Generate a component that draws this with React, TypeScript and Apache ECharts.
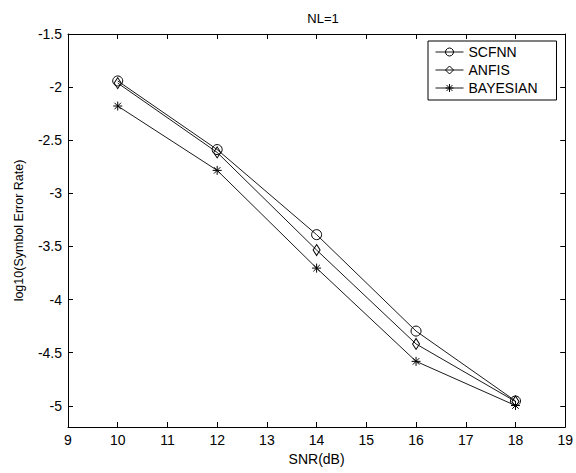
import React, { useEffect, useRef } from "react";
import * as echarts from "echarts";

const snr = [10, 12, 14, 16, 18];
const scfnn = [-1.942, -2.588, -3.389, -4.297, -4.955];
const anfis = [-1.962, -2.615, -3.534, -4.418, -4.96];
const bayesian = [-2.178, -2.784, -3.704, -4.582, -4.998];
const yTicks = [-5, -4.5, -4, -3.5, -3, -2.5, -2, -1.5];
const seriesNames = ["SCFNN", "ANFIS", "BAYESIAN"];

const FONT = "'Liberation Sans', Arial, sans-serif";
const STAR = "path://M0,-5L0,5M-5,0L5,0M-3.6,-3.6L3.6,3.6M-3.6,3.6L3.6,-3.6";

export default function App() {
  const ref = useRef<HTMLDivElement>(null);
  useEffect(() => {
    const chart = echarts.init(ref.current!, null, { renderer: "svg" });
    const pair = (arr: number[]) => snr.map((x, i) => [x, arr[i]]);
    const lineCol = "#1a1a1a";
    const mk = (name: string, data: number[], symbol: string, size: any) => ({
      name,
      type: "line",
      data: pair(data),
      symbol,
      symbolSize: size,
      showSymbol: true,
      lineStyle: { color: lineCol, width: 1 },
      itemStyle: { color: "rgba(0,0,0,0)", borderColor: "#000", borderWidth: 1 },
      emphasis: { disabled: true },
    });
    const tickCommon = { inside: true, length: 5, lineStyle: { color: "#000" } };
    chart.setOption({
      animation: false,
      textStyle: { fontFamily: FONT },
      title: {
        text: "NL=1",
        left: 318,
        textAlign: "center",
        top: 7,
        textStyle: { fontSize: 13, fontWeight: "normal", color: "#000", fontFamily: FONT },
      },
      grid: { left: 68, right: 8, top: 34, bottom: 46, containLabel: false },
      legend: {
        data: seriesNames,
        orient: "vertical",
        left: 428,
        top: 41,
        itemWidth: 28,
        itemHeight: 10,
        itemGap: 4,
        padding: [4, 19, 5, 7],
        borderColor: "#000",
        borderWidth: 1,
        backgroundColor: "#fff",
        lineStyle: { width: 1, color: lineCol },
        itemStyle: { color: "rgba(0,0,0,0)", borderColor: "#000", borderWidth: 1 },
        textStyle: { fontSize: 14, color: "#000", fontFamily: FONT },
      },
      xAxis: [
        {
          type: "value",
          min: 9,
          max: 19,
          interval: 1,
          name: "SNR(dB)",
          nameLocation: "middle",
          nameGap: 25,
          nameTextStyle: { fontSize: 14, color: "#000", fontFamily: FONT },
          axisLine: { show: true, lineStyle: { color: "#000" } },
          axisTick: tickCommon,
          axisLabel: { fontSize: 14, color: "#000", margin: 6, fontFamily: FONT },
          splitLine: { show: false },
        },
        {
          type: "value",
          position: "top",
          min: 9,
          max: 19,
          interval: 1,
          axisLine: { show: true, lineStyle: { color: "#000" } },
          axisTick: tickCommon,
          axisLabel: { show: false },
          splitLine: { show: false },
        },
      ],
      yAxis: [
        {
          type: "value",
          min: -5.2,
          max: -1.5,
          name: "log10(Symbol Error Rate)",
          nameLocation: "middle",
          nameGap: 43,
          nameTextStyle: { fontSize: 12.5, color: "#000", fontFamily: FONT },
          axisLine: { show: true, lineStyle: { color: "#000" } },
          axisTick: { ...tickCommon, customValues: yTicks },
          axisLabel: { fontSize: 14, color: "#000", margin: 6, customValues: yTicks, fontFamily: FONT },
          splitLine: { show: false },
        },
        {
          type: "value",
          position: "right",
          min: -5.2,
          max: -1.5,
          axisLine: { show: true, lineStyle: { color: "#000" } },
          axisTick: { ...tickCommon, customValues: yTicks },
          axisLabel: { show: false, customValues: yTicks },
          splitLine: { show: false },
        },
      ],
      series: [
        mk(seriesNames[0], scfnn, "circle", 10),
        mk(seriesNames[1], anfis, "diamond", [7, 11]),
        mk(seriesNames[2], bayesian, STAR, 9),
      ],
    });
    return () => chart.dispose();
  }, []);
  return (
    <div
      ref={ref}
      style={{ position: "fixed", left: 0, top: 0, width: 576, height: 473, background: "#fff" }}
    />
  );
}
